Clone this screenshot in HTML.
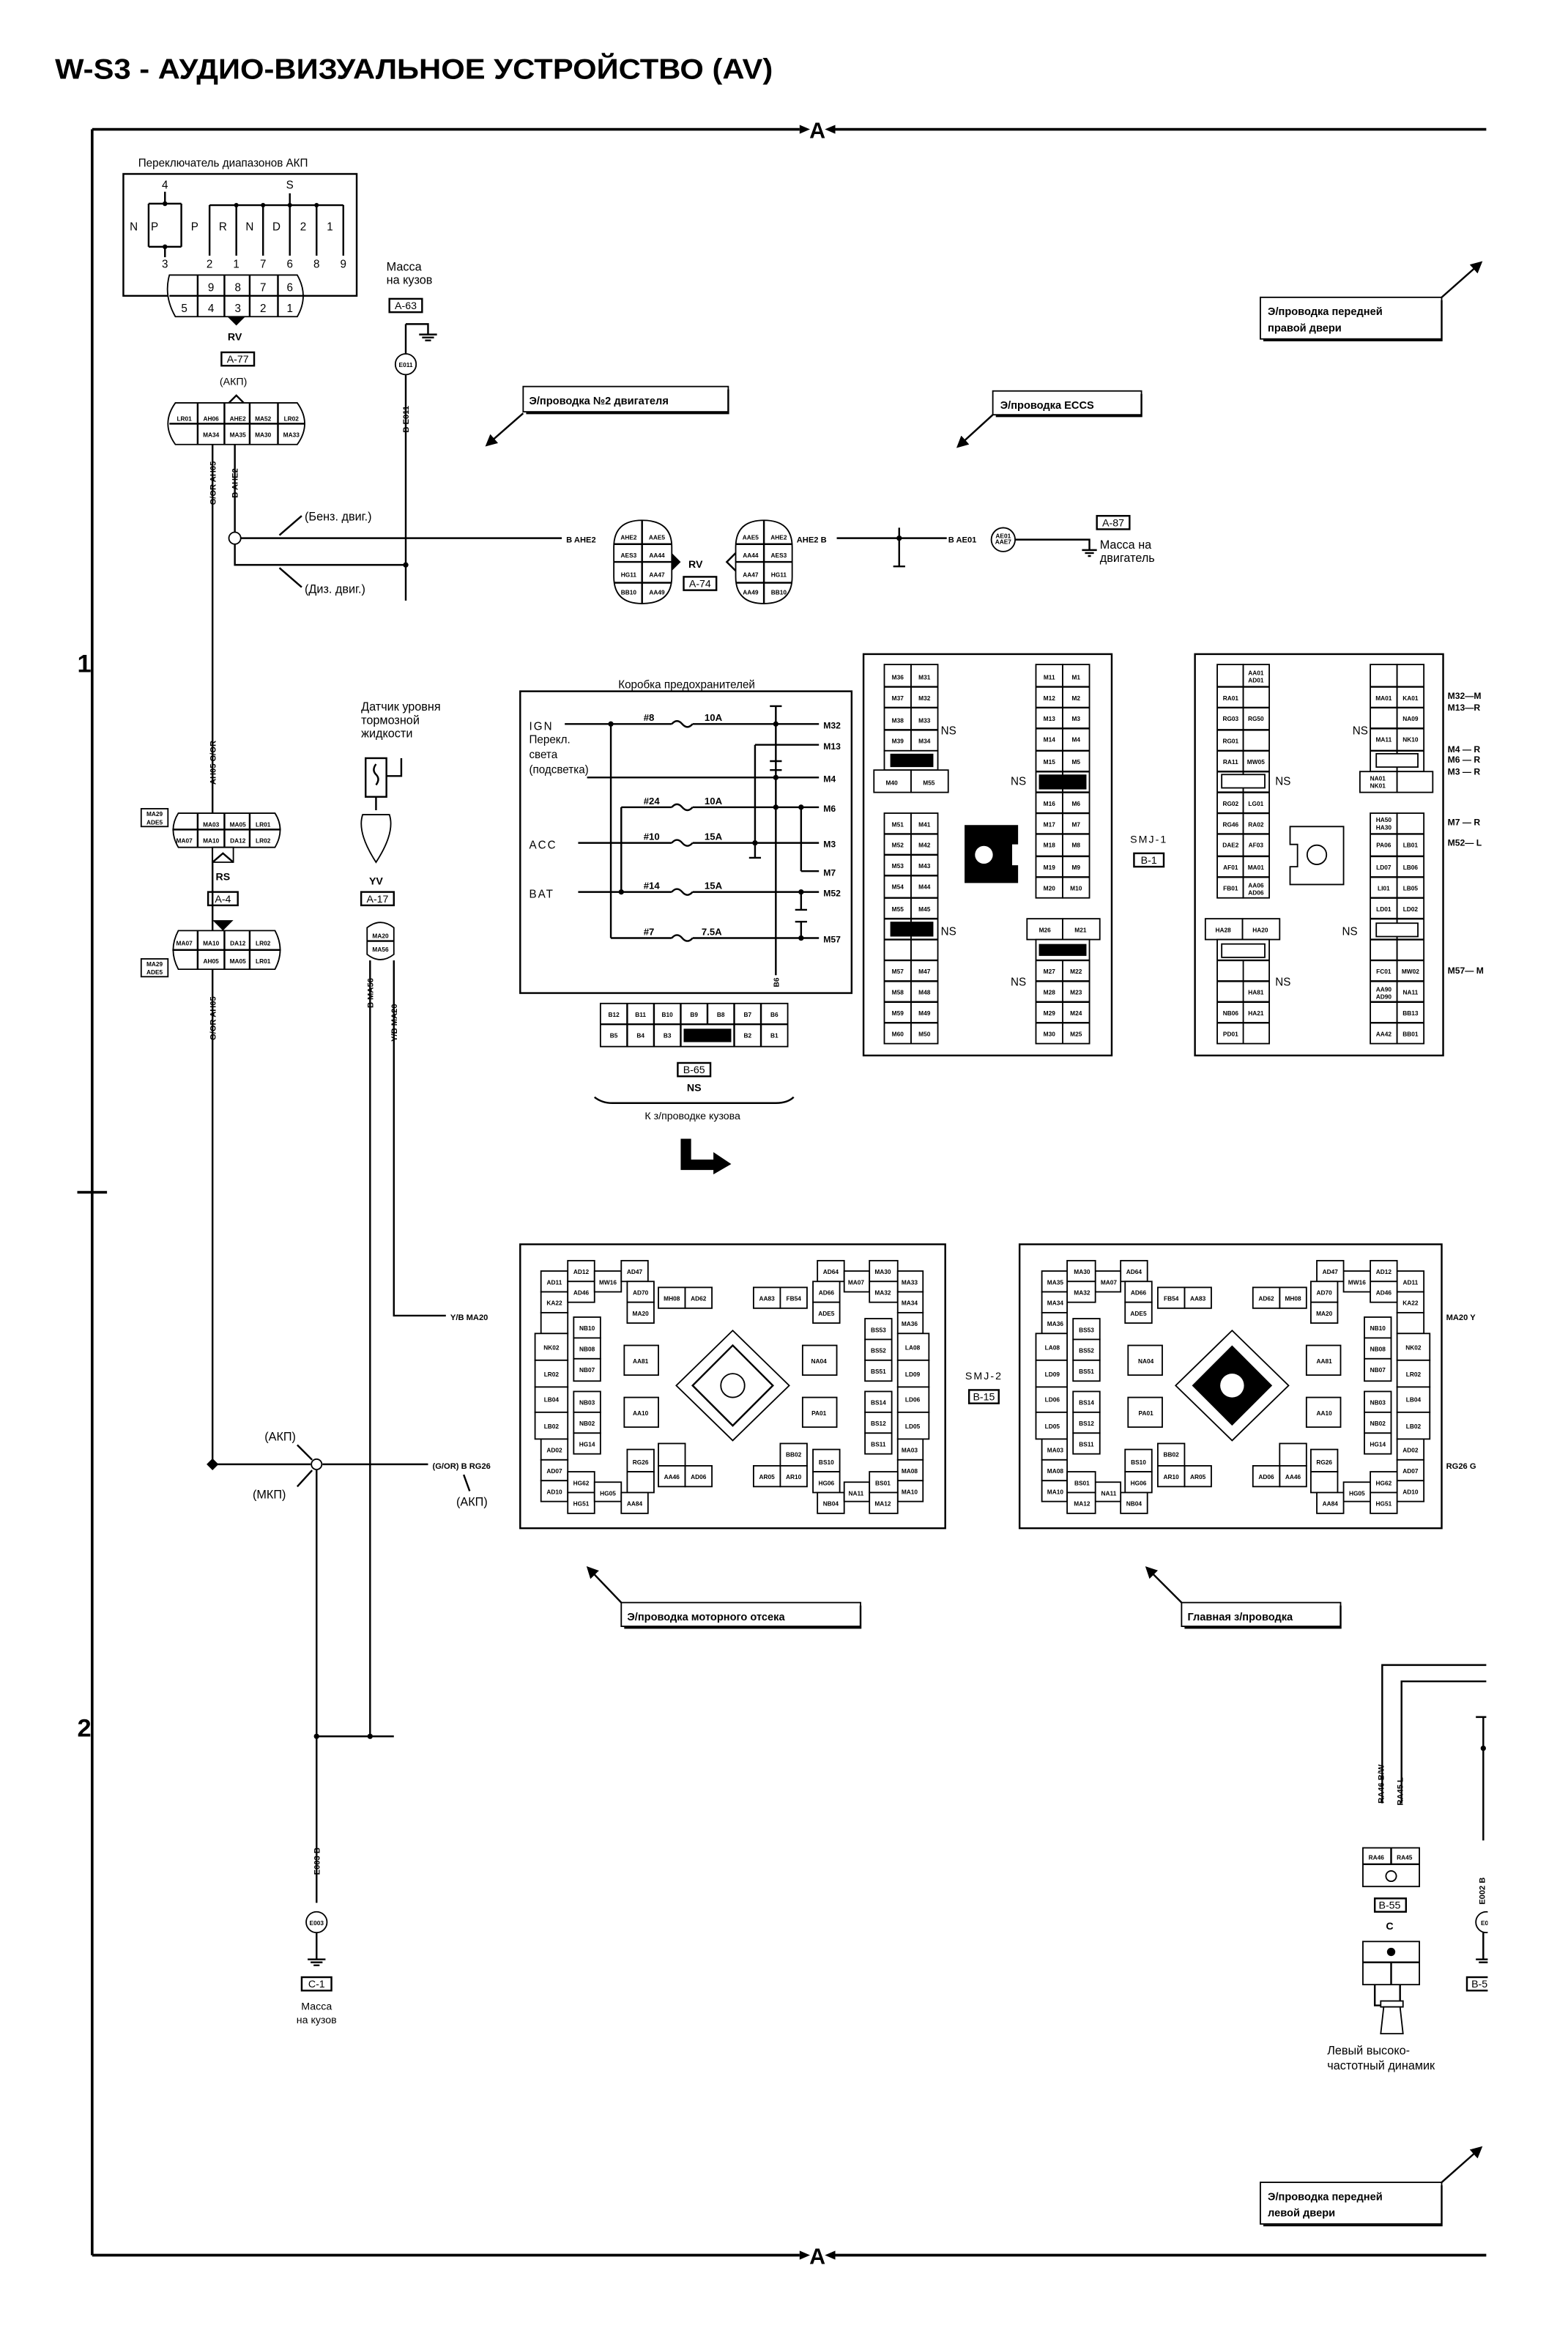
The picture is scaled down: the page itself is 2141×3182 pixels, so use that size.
<!DOCTYPE html>
<html><head><meta charset="utf-8"><style>
html,body{margin:0;padding:0;background:#fff;}
svg{display:block}
text{font-family:"Liberation Sans Narrow","Liberation Sans",sans-serif;fill:#000}
.c{fill:#fff;stroke:#000;stroke-width:.9}
.s{font-size:4.1px;font-weight:bold;text-anchor:middle}
.w{fill:none;stroke:#000;stroke-width:1.2}
.f{fill:none;stroke:#000;stroke-width:1.8}
.b{fill:#000}
.l{font-size:7.5px}
.m{font-size:7px;text-anchor:middle}
.ca{font-size:7.2px;font-weight:bold;font-family:"Liberation Sans","Liberation Sans Narrow",sans-serif}
</style></head><body>
<svg width="2141" height="3182" viewBox="0 0 1055 1568" preserveAspectRatio="none" xmlns="http://www.w3.org/2000/svg">
<defs>
<marker id="ah" markerWidth="8" markerHeight="8" refX="6" refY="4" orient="auto" markerUnits="userSpaceOnUse"><path d="M0,0 L8,4 L0,8 z" fill="#000"/></marker>
</defs>
<rect width="1055" height="1568" fill="#fff"/>
<!-- title -->
<text x="37" y="53" font-size="19" font-weight="bold" textLength="483" lengthAdjust="spacingAndGlyphs">W-S3 - АУДИО-ВИЗУАЛЬНОЕ УСТРОЙСТВО (AV)</text>
<!-- frame -->
<path class="f" d="M62,87 V1517 M62,87 H538 M562,87 H1000 M62,1517 H538 M562,1517 H1000"/>
<text x="550" y="93" font-size="15" font-weight="bold" text-anchor="middle">A</text>
<text x="550" y="1523" font-size="15" font-weight="bold" text-anchor="middle">A</text>
<path class="b" d="M538,84 L545,87 L538,90z M562,84 L555,87 L562,90z M538,1514 L545,1517 L538,1520z M562,1514 L555,1517 L562,1520z"/>
<text x="52" y="452" font-size="17" font-weight="bold">1</text>
<text x="52" y="1168" font-size="17" font-weight="bold">2</text>
<path class="f" d="M52,802 H72"/>

<!-- range switch -->
<text x="93" y="112" class="l">Переключатель диапазонов АКП</text>
<rect x="83" y="117" width="157" height="82" class="w"/>
<g font-size="7.5" text-anchor="middle">
<text x="111" y="127">4</text><text x="195" y="127">S</text>
<text x="90" y="155">N</text><text x="104" y="155">P</text><text x="131" y="155">P</text><text x="150" y="155">R</text><text x="168" y="155">N</text><text x="186" y="155">D</text><text x="204" y="155">2</text><text x="222" y="155">1</text>
<text x="111" y="180">3</text><text x="141" y="180">2</text><text x="159" y="180">1</text><text x="177" y="180">7</text><text x="195" y="180">6</text><text x="213" y="180">8</text><text x="231" y="180">9</text>
</g>
<path class="w" d="M111,129 V137 M100,137 H122 M100,137 V166 M122,137 V166 M100,166 H122 M111,166 V173 M141,138 H231 M141,138 V172 M159,138 V172 M177,138 V172 M195,130 V172 M213,138 V172 M231,138 V172"/>
<g class="b"><circle cx="111" cy="137" r="1.6"/><circle cx="111" cy="166" r="1.6"/><circle cx="159" cy="138" r="1.5"/><circle cx="177" cy="138" r="1.5"/><circle cx="195" cy="138" r="1.5"/><circle cx="213" cy="138" r="1.5"/></g>
<path d="M114,185 H200 Q208,199 200,213 H118 Q110,199 114,185z" class="c"/>
<path class="w" d="M114,199 H205 M133,185 V213 M151,185 V213 M168,185 V213 M187,185 V213"/>
<g font-size="7.5" text-anchor="middle"><text x="142" y="196">9</text><text x="160" y="196">8</text><text x="177" y="196">7</text><text x="195" y="196">6</text>
<text x="124" y="210">5</text><text x="142" y="210">4</text><text x="160" y="210">3</text><text x="177" y="210">2</text><text x="195" y="210">1</text></g>
<path class="b" d="M153,213 H165 L159,219z"/>
<text x="158" y="229" class="m" font-weight="bold">RV</text>
<rect x="149" y="237" width="22" height="9" class="w"/><text x="160" y="244" class="m">A-77</text>
<text x="157" y="259" class="m" font-size="8">(АКП)</text>
<path d="M118,271 H200 Q210,285 200,299 H118 Q108,285 118,271z" class="c"/>
<path class="w" d="M114,285 H205 M133,271 V299 M151,271 V299 M168,271 V299 M187,271 V299 M154,271 L159,266 L164,271"/>
<g class="s"><text x="124" y="283">LR01</text><text x="142" y="283">AH06</text><text x="160" y="283">AHE2</text><text x="177" y="283">MA52</text><text x="196" y="283">LR02</text>
<text x="142" y="294">MA34</text><text x="160" y="294">MA35</text><text x="177" y="294">MA30</text><text x="196" y="294">MA33</text></g>

<!-- left wires -->
<path class="w" d="M143,299 V985 M158,299 V358 M158,366 V380 H273 M162,362 H378"/>
<circle cx="158" cy="362" r="4" class="c"/>
<g font-size="5.5" font-weight="bold" text-anchor="middle">
<text transform="translate(145,325) rotate(-90)">G/OR  AH05</text>
<text transform="translate(160,325) rotate(-90)">B  AHE2</text>
<text transform="translate(145,513) rotate(-90)">AH05  G/OR</text>
<text transform="translate(145,685) rotate(-90)">G/OR  AH05</text>
<text transform="translate(275,282) rotate(-90)">B  E011</text>
<text transform="translate(251,668) rotate(-90)">B  MA56</text>
<text transform="translate(267,688) rotate(-90)">Y/B  MA20</text>
<text transform="translate(215,1252) rotate(-90)">E003  B</text>
<text transform="translate(931,1200) rotate(-90)">RA46  B/W</text>
<text transform="translate(944,1205) rotate(-90)">RA45  L</text>
<text transform="translate(999,1272) rotate(-90)">E002  B</text>
</g>
<text x="205" y="350" font-size="8">(Бенз. двиг.)</text>
<text x="205" y="399" font-size="8">(Диз. двиг.)</text>
<path class="w" d="M203,347 L188,360 M203,395 L188,382"/>
<circle cx="273" cy="380" r="1.8" class="b"/>
<!-- massa -->
<text x="260" y="182" font-size="8">Масса</text><text x="260" y="191" font-size="8">на кузов</text>
<rect x="262" y="201" width="22" height="9" class="w"/><text x="273" y="208" class="m">A-63</text>
<path class="w" d="M273,218 H288 V225 M282,225 H294 M284,227 H292 M286,229 H290 M273,218 V238 M273,252 V404"/>
<circle cx="273" cy="245" r="7" class="c"/><text x="273" y="247" class="s">E011</text>

<!-- callouts -->
<g>
<rect x="352" y="260" width="138" height="17" class="c" stroke-width="1.5"/><path class="w" d="M490,262 V278 H354" stroke-width="2"/>
<text x="356" y="272" class="ca">Э/проводка №2 двигателя</text>
<path class="w" d="M352,278 L328,299" marker-end="url(#ah)" stroke-width="1.5"/>
<rect x="668" y="263" width="100" height="16" class="c" stroke-width="1.5"/><path class="w" d="M768,265 V280 H670" stroke-width="2"/>
<text x="673" y="275" class="ca">Э/проводка ECCS</text>
<path class="w" d="M668,279 L645,300" marker-end="url(#ah)" stroke-width="1.5"/>
<rect x="848" y="200" width="122" height="28" class="c" stroke-width="1.5"/><path class="w" d="M970,202 V229 H850" stroke-width="2"/>
<text x="853" y="212" class="ca">Э/проводка передней</text><text x="853" y="223" class="ca">правой двери</text>
<path class="w" d="M970,200 L996,177" marker-end="url(#ah)" stroke-width="1.5"/>
<rect x="418" y="1078" width="161" height="16" class="c" stroke-width="1.5"/><path class="w" d="M579,1080 V1095 H420" stroke-width="2"/>
<text x="422" y="1090" class="ca">Э/проводка моторного отсека</text>
<path class="w" d="M418,1078 L396,1055" marker-end="url(#ah)" stroke-width="1.5"/>
<rect x="795" y="1078" width="107" height="16" class="c" stroke-width="1.5"/><path class="w" d="M902,1080 V1095 H797" stroke-width="2"/>
<text x="799" y="1090" class="ca">Главная з/проводка</text>
<path class="w" d="M795,1078 L772,1055" marker-end="url(#ah)" stroke-width="1.5"/>
<rect x="848" y="1468" width="122" height="28" class="c" stroke-width="1.5"/><path class="w" d="M970,1470 V1497 H850" stroke-width="2"/>
<text x="853" y="1480" class="ca">Э/проводка передней</text><text x="853" y="1491" class="ca">левой двери</text>
<path class="w" d="M970,1468 L996,1445" marker-end="url(#ah)" stroke-width="1.5"/>
</g>

<!-- RV A-74 connectors -->
<text x="381" y="365" font-size="5.5" font-weight="bold">B  AHE2</text>
<path d="M413,368 Q413,350 432,350 Q452,350 452,368 V388 Q452,406 432,406 Q413,406 413,388z" class="c"/>
<path class="w" d="M432,350 V406 M413,366 H452 M413,378 H452 M413,392 H452"/>
<path class="b" d="M452,372 L458,378 L452,384z"/>
<g class="s"><text x="423" y="363">AHE2</text><text x="442" y="363">AAE5</text><text x="423" y="375">AES3</text><text x="442" y="375">AA44</text><text x="423" y="388">HG11</text><text x="442" y="388">AA47</text><text x="423" y="400">BB10</text><text x="442" y="400">AA49</text></g>
<text x="468" y="382" class="m" font-weight="bold">RV</text>
<rect x="460" y="388" width="22" height="9" class="w"/><text x="471" y="395" class="m">A-74</text>
<path d="M495,368 Q495,350 514,350 Q533,350 533,368 V388 Q533,406 514,406 Q495,406 495,388z" class="c"/>
<path class="w" d="M514,350 V406 M495,366 H533 M495,378 H533 M495,392 H533 M495,372 L489,378 L495,384"/>
<g class="s"><text x="505" y="363">AAE5</text><text x="524" y="363">AHE2</text><text x="505" y="375">AA44</text><text x="524" y="375">AES3</text><text x="505" y="388">AA47</text><text x="524" y="388">HG11</text><text x="505" y="400">AA49</text><text x="524" y="400">BB10</text></g>
<text x="536" y="365" font-size="5.5" font-weight="bold">AHE2  B</text>
<path class="w" d="M563,362 H637 M605,355 V381 M601,381 H609"/>
<circle cx="605" cy="362" r="1.8" class="b"/>
<text x="638" y="365" font-size="5.5" font-weight="bold">B  AE01</text>
<circle cx="675" cy="363" r="8" class="c"/><text x="675" y="362" class="s" font-size="3.6">AE01</text><text x="675" y="366" class="s" font-size="3.6">AAE7</text>
<path class="w" d="M683,363 H733 V370 M728,370 H738 M730,372 H736 M732,374 H734"/>
<rect x="738" y="347" width="22" height="9" class="w"/><text x="749" y="354" class="m">A-87</text>
<text x="740" y="369" font-size="8">Масса на</text><text x="740" y="378" font-size="8">двигатель</text>

<!-- fuse box -->
<text x="462" y="463" class="l" text-anchor="middle">Коробка предохранителей</text>
<rect x="350" y="465" width="223" height="203" class="w"/>
<g font-size="7.5">
<text x="356" y="491" letter-spacing="1">IGN</text>
<text x="356" y="500">Перекл.</text><text x="356" y="510">света</text><text x="356" y="520">(подсветка)</text>
<text x="356" y="571" letter-spacing="1">ACC</text>
<text x="356" y="604" letter-spacing="1">BAT</text>
</g>
<path class="w" d="M380,487 H551 M508,501 H551 M395,523 H551 M418,543 H551 M389,567 H551 M539,586 H551 M389,600 H551 M411,631 H551
M411,487 V631 M418,543 V600 M508,501 V577 M522,475 V656 M539,543 V586 M539,600 V612 M539,620 V631
M518,475 H526 M518,512 H526 M518,518 H526 M504,577 H512 M535,612 H543 M535,620 H543"/>
<g fill="#fff" stroke="none"><rect x="452" y="484" width="14" height="6"/><rect x="452" y="540" width="14" height="6"/><rect x="452" y="564" width="14" height="6"/><rect x="452" y="597" width="14" height="6"/><rect x="452" y="628" width="14" height="6"/></g>
<path class="w" d="M452,487 q3.5,-4 7,0 q3.5,4 7,0 M452,543 q3.5,-4 7,0 q3.5,4 7,0 M452,567 q3.5,-4 7,0 q3.5,4 7,0 M452,600 q3.5,-4 7,0 q3.5,4 7,0 M452,631 q3.5,-4 7,0 q3.5,4 7,0"/>
<g class="b"><circle cx="411" cy="487" r="1.8"/><circle cx="522" cy="487" r="1.8"/><circle cx="522" cy="523" r="1.8"/><circle cx="522" cy="543" r="1.8"/><circle cx="539" cy="543" r="1.8"/><circle cx="508" cy="567" r="1.8"/><circle cx="418" cy="600" r="1.8"/><circle cx="539" cy="600" r="1.8"/><circle cx="539" cy="631" r="1.8"/></g>
<g font-size="6.5" font-weight="bold">
<text x="433" y="485">#8</text><text x="474" y="485">10A</text>
<text x="433" y="541">#24</text><text x="474" y="541">10A</text>
<text x="433" y="565">#10</text><text x="474" y="565">15A</text>
<text x="433" y="598">#14</text><text x="474" y="598">15A</text>
<text x="433" y="629">#7</text><text x="472" y="629">7.5A</text>
</g>
<g font-size="6" font-weight="bold"><text x="554" y="490">M32</text><text x="554" y="504">M13</text><text x="554" y="526">M4</text><text x="554" y="546">M6</text><text x="554" y="570">M3</text><text x="554" y="589">M7</text><text x="554" y="603">M52</text><text x="554" y="634">M57</text></g>
<text transform="translate(524,664) rotate(-90)" font-size="5" font-weight="bold">B6</text>
<!-- B-65 -->
<rect x="404" y="675" width="126" height="29" class="c"/>
<path class="w" d="M404,689 H530 M422,675 V704 M440,675 V704 M458,675 V704 M476,675 V689 M494,675 V704 M512,675 V704"/>
<rect x="460" y="692" width="32" height="9" class="b"/>
<g class="s"><text x="413" y="684">B12</text><text x="431" y="684">B11</text><text x="449" y="684">B10</text><text x="467" y="684">B9</text><text x="485" y="684">B8</text><text x="503" y="684">B7</text><text x="521" y="684">B6</text>
<text x="413" y="698">B5</text><text x="431" y="698">B4</text><text x="449" y="698">B3</text><text x="503" y="698">B2</text><text x="521" y="698">B1</text></g>
<rect x="456" y="715" width="22" height="9" class="w"/><text x="467" y="722" class="m">B-65</text>
<text x="467" y="734" class="m" font-weight="bold">NS</text>
<path class="w" d="M400,738 Q405,742 412,742 H522 Q530,742 534,738"/>
<text x="466" y="753" class="m" font-size="8">К з/проводке кузова</text>
<path class="b" d="M458,766 H465 V780 H480 V775 L492,783 L480,790 V787 H458z"/>

<!-- SMJ-1 left -->
<rect x="581" y="440" width="167" height="270" class="w"/>
<g class="c">
<rect x="595" y="447" width="18" height="58"/><rect x="613" y="447" width="18" height="58"/><rect x="595" y="505" width="36" height="13"/>
<rect x="588" y="518" width="25" height="15"/><rect x="613" y="518" width="25" height="15"/>
<rect x="595" y="547" width="18" height="155"/><rect x="613" y="547" width="18" height="155"/>
<rect x="697" y="447" width="18" height="157"/><rect x="715" y="447" width="18" height="157"/>
<rect x="691" y="618" width="24" height="14"/><rect x="715" y="618" width="25" height="14"/>
<rect x="697" y="632" width="36" height="70"/><rect x="715" y="646" width="18" height="56"/>
</g>
<path class="w" d="M595,462 H631 M595,476 H631 M595,491 H631 M595,561 H631 M595,575 H631 M595,589 H631 M595,604 H631 M595,618 H631 M595,632 H631 M595,646 H631 M595,660 H631 M595,674 H631 M595,688 H631
M697,462 H733 M697,476 H733 M697,490 H733 M697,505 H733 M697,519 H733 M697,533 H733 M697,547 H733 M697,561 H733 M697,576 H733 M697,590 H733 M697,646 H733 M697,660 H733 M697,674 H733 M697,688 H733"/>
<g class="b"><rect x="599" y="507" width="29" height="9"/><rect x="599" y="620" width="29" height="10"/><rect x="699" y="521" width="32" height="10"/><rect x="699" y="635" width="32" height="8"/>
<path d="M649,555 H685 V568 H681 V582 H685 V594 H649z"/></g>
<circle cx="662" cy="575" r="6" fill="#fff"/>
<g class="s">
<text x="604" y="457">M36</text><text x="622" y="457">M31</text><text x="604" y="471">M37</text><text x="622" y="471">M32</text><text x="604" y="486">M38</text><text x="622" y="486">M33</text><text x="604" y="500">M39</text><text x="622" y="500">M34</text>
<text x="600" y="528">M40</text><text x="625" y="528">M55</text>
<text x="604" y="556">M51</text><text x="622" y="556">M41</text><text x="604" y="570">M52</text><text x="622" y="570">M42</text><text x="604" y="584">M53</text><text x="622" y="584">M43</text><text x="604" y="598">M54</text><text x="622" y="598">M44</text><text x="604" y="613">M55</text><text x="622" y="613">M45</text>
<text x="604" y="655">M57</text><text x="622" y="655">M47</text><text x="604" y="669">M58</text><text x="622" y="669">M48</text><text x="604" y="683">M59</text><text x="622" y="683">M49</text><text x="604" y="697">M60</text><text x="622" y="697">M50</text>
<text x="706" y="457">M11</text><text x="724" y="457">M1</text><text x="706" y="471">M12</text><text x="724" y="471">M2</text><text x="706" y="485">M13</text><text x="724" y="485">M3</text><text x="706" y="499">M14</text><text x="724" y="499">M4</text><text x="706" y="514">M15</text><text x="724" y="514">M5</text>
<text x="706" y="542">M16</text><text x="724" y="542">M6</text><text x="706" y="556">M17</text><text x="724" y="556">M7</text><text x="706" y="570">M18</text><text x="724" y="570">M8</text><text x="706" y="585">M19</text><text x="724" y="585">M9</text><text x="706" y="599">M20</text><text x="724" y="599">M10</text>
<text x="703" y="627">M26</text><text x="727" y="627">M21</text>
<text x="706" y="655">M27</text><text x="724" y="655">M22</text><text x="706" y="669">M28</text><text x="724" y="669">M23</text><text x="706" y="683">M29</text><text x="724" y="683">M24</text><text x="706" y="697">M30</text><text x="724" y="697">M25</text>
</g>
<g font-size="7.5"><text x="633" y="494">NS</text><text x="680" y="528">NS</text><text x="633" y="629">NS</text><text x="680" y="663">NS</text>
<text x="910" y="494">NS</text><text x="858" y="528">NS</text><text x="903" y="629">NS</text><text x="858" y="663">NS</text></g>
<text x="773" y="567" class="m" font-size="8.5" letter-spacing="1">SMJ-1</text>
<rect x="763" y="574" width="20" height="9" class="w"/><text x="773" y="581" class="m">B-1</text>

<!-- SMJ-1 right -->
<rect x="804" y="440" width="167" height="270" class="w"/>
<g class="c">
<rect x="819" y="447" width="17.5" height="157"/><rect x="836.5" y="447" width="17.5" height="157"/>
<rect x="811" y="618" width="25" height="14"/><rect x="836" y="618" width="25" height="14"/>
<rect x="819" y="632" width="35" height="70"/><rect x="836.5" y="646" width="17.5" height="56"/>
<rect x="922" y="447" width="18" height="72"/><rect x="940" y="447" width="18" height="72"/>
<rect x="915" y="519" width="25" height="14"/><rect x="940" y="519" width="24" height="14"/>
<rect x="922" y="547" width="18" height="155"/><rect x="940" y="547" width="18" height="155"/>
<path d="M868,556 H904 V595 H868 V583 H873 V568 H868z"/>
</g>
<circle cx="886" cy="575" r="6.5" class="c"/>
<path class="w" d="M819,462 H854 M819,476 H854 M819,491 H854 M819,505 H854 M819,519 H854 M819,533 H854 M819,547 H854 M819,561 H854 M819,576 H854 M819,590 H854 M819,646 H854 M819,660 H854 M819,674 H854 M819,688 H854
M922,462 H958 M922,476 H958 M922,490 H958 M922,505 H958 M922,561 H958 M922,576 H958 M922,590 H958 M922,604 H958 M922,618 H958 M922,632 H958 M922,646 H958 M922,660 H958 M922,674 H958 M922,688 H958"/>
<g class="c"><rect x="822" y="521" width="29" height="9"/><rect x="822" y="635" width="29" height="9"/><rect x="926" y="507" width="28" height="9"/><rect x="926" y="621" width="28" height="9"/></g>
<g class="s">
<text x="845" y="454">AA01</text><text x="845" y="459">AD01</text>
<text x="828" y="471">RA01</text><text x="828" y="485">RG03</text><text x="845" y="485">RG50</text><text x="828" y="500">RG01</text><text x="828" y="514">RA11</text><text x="845" y="514">MW05</text>
<text x="828" y="542">RG02</text><text x="845" y="542">LG01</text><text x="828" y="556">RG46</text><text x="845" y="556">RA02</text><text x="828" y="570">DAE2</text><text x="845" y="570">AF03</text><text x="828" y="585">AF01</text><text x="845" y="585">MA01</text><text x="828" y="599">FB01</text><text x="845" y="597">AA06</text><text x="845" y="602">AD06</text>
<text x="823" y="627">HA28</text><text x="848" y="627">HA20</text>
<text x="845" y="669">HA81</text><text x="828" y="683">NB06</text><text x="845" y="683">HA21</text><text x="828" y="697">PD01</text>
<text x="931" y="471">MA01</text><text x="949" y="471">KA01</text><text x="949" y="485">NA09</text><text x="931" y="499">MA11</text><text x="949" y="499">NK10</text>
<text x="927" y="525">NA01</text><text x="927" y="530">NK01</text>
<text x="931" y="553">HA50</text><text x="931" y="558">HA30</text>
<text x="931" y="570">PA06</text><text x="949" y="570">LB01</text><text x="931" y="585">LD07</text><text x="949" y="585">LB06</text><text x="931" y="599">LI01</text><text x="949" y="599">LB05</text><text x="931" y="613">LD01</text><text x="949" y="613">LD02</text>
<text x="931" y="655">FC01</text><text x="949" y="655">MW02</text><text x="931" y="667">AA90</text><text x="931" y="672">AD90</text><text x="949" y="669">NA11</text><text x="949" y="683">BB13</text><text x="931" y="697">AA42</text><text x="949" y="697">BB01</text>
</g>
<g font-size="6" font-weight="bold"><text x="974" y="470">M32—M</text><text x="974" y="478">M13—R</text><text x="974" y="506">M4 — R</text><text x="974" y="513">M6 — R</text><text x="974" y="521">M3 — R</text><text x="974" y="555">M7 — R</text><text x="974" y="569">M52— L</text><text x="974" y="655">M57— M</text></g>

<!-- RS connectors left -->
<rect x="95" y="544" width="18" height="12" class="c"/><text x="104" y="549" class="s">MA29</text><text x="104" y="554.5" class="s">ADE5</text>
<path d="M120,547 H185 Q192,558 185,570 H120 Q113,558 120,547z" class="c"/>
<path class="w" d="M116,558 H189 M133,547 V570 M151,547 V570 M168,547 V570"/>
<g class="s"><text x="142" y="556">MA03</text><text x="160" y="556">MA05</text><text x="177" y="556">LR01</text><text x="124" y="567">MA07</text><text x="142" y="567">MA10</text><text x="160" y="567">DA12</text><text x="177" y="567">LR02</text></g>
<path class="c" d="M143,570 H157 V580 H143z"/><path class="w" d="M143,580 L150,574 L157,580"/>
<text x="150" y="592" class="m" font-weight="bold">RS</text>
<rect x="140" y="600" width="20" height="9" class="w"/><text x="150" y="607" class="m">A-4</text>
<path class="b" d="M143,619 H157 L150,626z"/>
<path d="M120,626 H185 Q192,639 185,652 H120 Q113,639 120,626z" class="c"/>
<path class="w" d="M116,639 H189 M133,626 V652 M151,626 V652 M168,626 V652"/>
<g class="s"><text x="124" y="636">MA07</text><text x="142" y="636">MA10</text><text x="160" y="636">DA12</text><text x="177" y="636">LR02</text><text x="142" y="648">AH05</text><text x="160" y="648">MA05</text><text x="177" y="648">LR01</text></g>
<rect x="95" y="645" width="18" height="12" class="c"/><text x="104" y="650" class="s">MA29</text><text x="104" y="655.5" class="s">ADE5</text>

<!-- YV sensor -->
<text x="243" y="478" font-size="8">Датчик уровня</text><text x="243" y="487" font-size="8">тормозной</text><text x="243" y="496" font-size="8">жидкости</text>
<rect x="246" y="510" width="14" height="26" class="w"/><path class="w" d="M253,514 q-3,4 0,7 q3,3 0,7 M253,536 V545 M260,522 H270 V510"/>
<path class="c" d="M244,548 H262 Q266,560 253,580 Q240,560 244,548z"/>
<text x="253" y="595" class="m" font-weight="bold">YV</text>
<rect x="243" y="600" width="22" height="9" class="w"/><text x="254" y="607" class="m">A-17</text>
<path d="M247,624 Q256,617 265,624 V642 Q256,649 247,642z" class="c"/><path class="w" d="M247,633 H265"/>
<text x="256" y="631" class="s">MA20</text><text x="256" y="640" class="s">MA56</text>
<path class="w" d="M249,646 V1168 M265,646 V885 H300"/>
<text x="303" y="888" font-size="5.5" font-weight="bold">Y/B  MA20</text>

<!-- junction bottom left -->
<path class="w" d="M143,985 H209 M217,985 H288 M213,989 V1280 M213,1168 H265"/>
<circle cx="213" cy="985" r="3.5" class="c"/>
<path class="b" d="M143,981 L139,985 L143,989 L147,985z"/>
<g class="b"><circle cx="213" cy="1168" r="1.8"/><circle cx="249" cy="1168" r="1.8"/></g>
<text x="178" y="969" font-size="8">(АКП)</text><text x="170" y="1008" font-size="8">(МКП)</text>
<path class="w" d="M200,972 L210,982 M200,1000 L210,989"/>
<text x="291" y="988" font-size="5.5" font-weight="bold">(G/OR) B  RG26</text>
<text x="307" y="1013" font-size="8">(АКП)</text><path class="w" d="M316,1003 L312,992"/>
<circle cx="213" cy="1293" r="7" class="c"/><text x="213" y="1295" class="s">E003</text>
<path class="w" d="M213,1300 V1318 M207,1318 H219 M209,1320 H217 M211,1322 H215"/>
<rect x="203" y="1330" width="20" height="9" class="w"/><text x="213" y="1337" class="m">C-1</text>
<text x="213" y="1352" class="m" font-size="8">Масса</text><text x="213" y="1361" class="m" font-size="8">на кузов</text>

<!-- SMJ-2 left panel -->
<rect x="350" y="837" width="286" height="191" class="w"/>
<g id="r2">
<g class="c">
<rect x="364" y="855" width="18" height="14"/><rect x="364" y="869" width="18" height="14"/><rect x="364" y="883" width="18" height="14"/>
<rect x="360" y="897" width="22" height="18"/><rect x="360" y="915" width="22" height="18"/><rect x="360" y="933" width="22" height="17"/><rect x="360" y="950" width="22" height="18"/>
<rect x="364" y="968" width="18" height="14"/><rect x="364" y="982" width="18" height="14"/><rect x="364" y="996" width="18" height="14"/>
<rect x="382" y="848" width="18" height="14"/><rect x="382" y="862" width="18" height="14"/><rect x="382" y="990" width="18" height="14"/><rect x="382" y="1004" width="18" height="14"/>
<rect x="386" y="886" width="18" height="14"/><rect x="386" y="900" width="18" height="14"/><rect x="386" y="914" width="18" height="15"/><rect x="386" y="936" width="18" height="14"/><rect x="386" y="950" width="18" height="14"/><rect x="386" y="964" width="18" height="14"/>
<rect x="420" y="905" width="23" height="20"/><rect x="420" y="940" width="23" height="20"/>
<rect x="400" y="855" width="18" height="14"/><rect x="418" y="848" width="18" height="14"/><rect x="422" y="862" width="18" height="14"/><rect x="422" y="876" width="18" height="14"/><rect x="443" y="866" width="18" height="14"/><rect x="461" y="866" width="18" height="14"/>
<rect x="507" y="866" width="18" height="14"/><rect x="525" y="866" width="18" height="14"/><rect x="550" y="848" width="18" height="14"/><rect x="547" y="862" width="18" height="14"/><rect x="547" y="876" width="18" height="14"/>
<rect x="568" y="855" width="17" height="14"/><rect x="585" y="848" width="19" height="14"/><rect x="585" y="862" width="19" height="14"/>
<rect x="604" y="855" width="17" height="14"/><rect x="604" y="869" width="17" height="14"/><rect x="604" y="883" width="17" height="14"/>
<rect x="604" y="897" width="21" height="18"/><rect x="604" y="915" width="21" height="18"/><rect x="604" y="933" width="21" height="17"/><rect x="604" y="950" width="21" height="18"/>
<rect x="604" y="968" width="17" height="14"/><rect x="604" y="982" width="17" height="14"/><rect x="604" y="996" width="17" height="14"/>
<rect x="582" y="887" width="18" height="14"/><rect x="582" y="901" width="18" height="14"/><rect x="582" y="915" width="18" height="14"/><rect x="582" y="936" width="18" height="14"/><rect x="582" y="950" width="18" height="14"/><rect x="582" y="964" width="18" height="14"/>
<rect x="540" y="905" width="23" height="20"/><rect x="540" y="940" width="23" height="20"/>
<rect x="422" y="975" width="18" height="15"/><rect x="422" y="990" width="18" height="14"/><rect x="443" y="971" width="18" height="15"/><rect x="443" y="986" width="18" height="14"/><rect x="461" y="986" width="18" height="14"/>
<rect x="400" y="997" width="18" height="13"/><rect x="418" y="1004" width="18" height="14"/>
<rect x="525" y="971" width="18" height="15"/><rect x="507" y="986" width="18" height="14"/><rect x="525" y="986" width="18" height="14"/>
<rect x="547" y="975" width="18" height="15"/><rect x="547" y="990" width="18" height="14"/><rect x="550" y="1004" width="18" height="14"/>
<rect x="568" y="997" width="17" height="13"/><rect x="585" y="990" width="19" height="14"/><rect x="585" y="1004" width="19" height="14"/>
<path d="M493,895 L531,932 L493,969 L455,932z"/>
</g>
</g>
<path class="w" d="M493,905 L520,932 L493,959 L466,932z"/>
<circle cx="493" cy="932" r="8" class="c"/>
<g class="s">
<text x="373" y="864">AD11</text><text x="373" y="878">KA22</text>
<text x="371" y="908">NK02</text><text x="371" y="926">LR02</text><text x="371" y="943">LB04</text><text x="371" y="961">LB02</text>
<text x="373" y="977">AD02</text><text x="373" y="991">AD07</text><text x="373" y="1005">AD10</text>
<text x="391" y="857">AD12</text><text x="391" y="871">AD46</text><text x="391" y="999">HG62</text><text x="391" y="1013">HG51</text>
<text x="395" y="895">NB10</text><text x="395" y="909">NB08</text><text x="395" y="923">NB07</text><text x="395" y="945">NB03</text><text x="395" y="959">NB02</text><text x="395" y="973">HG14</text>
<text x="431" y="917">AA81</text><text x="431" y="952">AA10</text>
<text x="409" y="864">MW16</text><text x="427" y="857">AD47</text><text x="431" y="871">AD70</text><text x="431" y="885">MA20</text><text x="452" y="875">MH08</text><text x="470" y="875">AD62</text>
<text x="516" y="875">AA83</text><text x="534" y="875">FB54</text><text x="559" y="857">AD64</text><text x="556" y="871">AD66</text><text x="556" y="885">ADE5</text>
<text x="576" y="864">MA07</text><text x="594" y="857">MA30</text><text x="594" y="871">MA32</text>
<text x="612" y="864">MA33</text><text x="612" y="878">MA34</text><text x="612" y="892">MA36</text>
<text x="614" y="908">LA08</text><text x="614" y="926">LD09</text><text x="614" y="943">LD06</text><text x="614" y="961">LD05</text>
<text x="612" y="977">MA03</text><text x="612" y="991">MA08</text><text x="612" y="1005">MA10</text>
<text x="591" y="896">BS53</text><text x="591" y="910">BS52</text><text x="591" y="924">BS51</text><text x="591" y="945">BS14</text><text x="591" y="959">BS12</text><text x="591" y="973">BS11</text>
<text x="551" y="917">NA04</text><text x="551" y="952">PA01</text>
<text x="431" y="985">RG26</text><text x="452" y="995">AA46</text><text x="470" y="995">AD06</text><text x="409" y="1006">HG05</text><text x="427" y="1013">AA84</text>
<text x="534" y="980">BB02</text><text x="516" y="995">AR05</text><text x="534" y="995">AR10</text><text x="556" y="985">BS10</text><text x="556" y="999">HG06</text><text x="559" y="1013">NB04</text>
<text x="576" y="1006">NA11</text><text x="594" y="999">BS01</text><text x="594" y="1013">MA12</text>
</g>
<text x="662" y="928" class="m" font-size="8.5" letter-spacing="1">SMJ-2</text>
<rect x="652" y="935" width="20" height="9" class="w"/><text x="662" y="942" class="m">B-15</text>

<!-- SMJ-2 right panel (mirror) -->
<rect x="686" y="837" width="284" height="191" class="w"/>
<use href="#r2" transform="translate(1322,0) scale(-1,1)"/>
<path class="b" d="M829,905 L856,932 L829,959 L802,932z"/>
<circle cx="829" cy="932" r="8" fill="#fff"/>
<g class="s">
<text x="949" y="864">AD11</text><text x="949" y="878">KA22</text>
<text x="951" y="908">NK02</text><text x="951" y="926">LR02</text><text x="951" y="943">LB04</text><text x="951" y="961">LB02</text>
<text x="949" y="977">AD02</text><text x="949" y="991">AD07</text><text x="949" y="1005">AD10</text>
<text x="931" y="857">AD12</text><text x="931" y="871">AD46</text><text x="931" y="999">HG62</text><text x="931" y="1013">HG51</text>
<text x="927" y="895">NB10</text><text x="927" y="909">NB08</text><text x="927" y="923">NB07</text><text x="927" y="945">NB03</text><text x="927" y="959">NB02</text><text x="927" y="973">HG14</text>
<text x="891" y="917">AA81</text><text x="891" y="952">AA10</text>
<text x="913" y="864">MW16</text><text x="895" y="857">AD47</text><text x="891" y="871">AD70</text><text x="891" y="885">MA20</text><text x="870" y="875">MH08</text><text x="852" y="875">AD62</text>
<text x="806" y="875">AA83</text><text x="788" y="875">FB54</text><text x="763" y="857">AD64</text><text x="766" y="871">AD66</text><text x="766" y="885">ADE5</text>
<text x="746" y="864">MA07</text><text x="728" y="857">MA30</text><text x="728" y="871">MA32</text>
<text x="710" y="864">MA35</text><text x="710" y="878">MA34</text><text x="710" y="892">MA36</text>
<text x="708" y="908">LA08</text><text x="708" y="926">LD09</text><text x="708" y="943">LD06</text><text x="708" y="961">LD05</text>
<text x="710" y="977">MA03</text><text x="710" y="991">MA08</text><text x="710" y="1005">MA10</text>
<text x="731" y="896">BS53</text><text x="731" y="910">BS52</text><text x="731" y="924">BS51</text><text x="731" y="945">BS14</text><text x="731" y="959">BS12</text><text x="731" y="973">BS11</text>
<text x="771" y="917">NA04</text><text x="771" y="952">PA01</text>
<text x="891" y="985">RG26</text><text x="870" y="995">AA46</text><text x="852" y="995">AD06</text><text x="913" y="1006">HG05</text><text x="895" y="1013">AA84</text>
<text x="788" y="980">BB02</text><text x="806" y="995">AR05</text><text x="788" y="995">AR10</text><text x="766" y="985">BS10</text><text x="766" y="999">HG06</text><text x="763" y="1013">NB04</text>
<text x="746" y="1006">NA11</text><text x="728" y="999">BS01</text><text x="728" y="1013">MA12</text>
</g>
<text x="973" y="888" font-size="5.5" font-weight="bold">MA20  Y</text>
<text x="973" y="988" font-size="5.5" font-weight="bold">RG26  G</text>

<!-- bottom right speaker -->
<path class="w" d="M930,1213 V1120 H1000 M943,1213 V1131 H1000 M998,1155 V1238 M993,1155 H1000"/>
<circle cx="998" cy="1176" r="1.8" class="b"/>
<rect x="917" y="1243" width="38" height="26" class="c"/><path class="w" d="M917,1254 H955 M936,1243 V1254"/>
<text x="926" y="1251" class="s" font-size="3.8">RA46</text><text x="945" y="1251" class="s" font-size="3.8">RA45</text>
<circle cx="936" cy="1262" r="3.5" class="c"/>
<rect x="925" y="1277" width="21" height="9" class="w"/><text x="935" y="1284" class="m">B-55</text>
<text x="935" y="1298" class="m" font-weight="bold">C</text>
<rect x="917" y="1306" width="38" height="29" class="c"/><path class="w" d="M917,1320 H955 M936,1320 V1335 M925,1335 V1349 H942 M942,1335 V1347"/>
<circle cx="936" cy="1313" r="2.8" class="b"/>
<rect x="929" y="1346" width="15" height="4" class="c"/><path class="c" d="M931,1350 H942 L944,1368 H929z"/>
<text x="893" y="1382" font-size="8">Левый высоко-</text><text x="893" y="1392" font-size="8">частотный динамик</text>
<circle cx="1000" cy="1293" r="7" class="c"/><text x="1000" y="1295" class="s">E00</text>
<path class="w" d="M998,1300 V1318 M993,1318 H1003 M995,1320 H1001"/>
<rect x="987" y="1330" width="20" height="9" class="w"/><text x="990" y="1337" font-size="7">B-5</text>
<!-- clip right edge -->
<rect x="1001" y="60" width="60" height="1500" fill="#fff"/>
</svg>
</body></html>
